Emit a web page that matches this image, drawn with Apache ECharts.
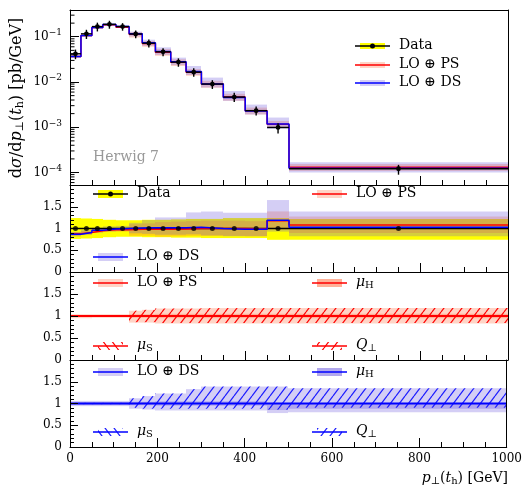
<!DOCTYPE html>
<html>
<head>
<meta charset="utf-8">
<script src="https://cdn.jsdelivr.net/npm/echarts/dist/echarts.min.js"></script>
<style>html,body{margin:0;padding:0;background:#fff}#main{width:525px;height:490px}</style>
</head>
<body>
<div id="main"></div>
<script>
// bin edges, p_T(t_h) [GeV]
var edges = [0, 25, 50, 75, 105, 135, 165, 195, 230, 265, 300, 350, 400, 450, 500, 1000];

// dsigma/dpT [pb/GeV]
var dataVal = [0.0420, 0.116, 0.168, 0.188, 0.168, 0.115, 0.072, 0.0465, 0.0275, 0.0165, 0.0090, 0.00465, 0.00233, 0.00099, 0.000121];
var psVal   = [0.0368, 0.106, 0.160, 0.183, 0.163, 0.113, 0.0706, 0.0456, 0.0272, 0.0165, 0.0090, 0.00465, 0.00231, 0.00117, 0.000131];
var dsVal   = [0.0365, 0.106, 0.161, 0.186, 0.168, 0.116, 0.0735, 0.0474, 0.0281, 0.0170, 0.0090, 0.00456, 0.00228, 0.00118, 0.000125];

// data uncertainty (relative)
var dataLo = [0.76, 0.77, 0.78, 0.80, 0.81, 0.81, 0.80, 0.80, 0.79, 0.79, 0.78, 0.78, 0.78, 0.74, 0.74];
var dataHi = [1.24, 1.23, 1.22, 1.20, 1.19, 1.19, 1.20, 1.20, 1.21, 1.22, 1.22, 1.24, 1.24, 1.24, 1.22];

// MC / data
var psRatio = [0.88, 0.91, 0.95, 0.97, 0.97, 0.98, 0.98, 0.98, 0.99, 1.00, 1.00, 1.00, 0.99, 1.18, 1.08];
var dsRatio = [0.87, 0.91, 0.96, 0.99, 1.00, 1.01, 1.02, 1.02, 1.02, 1.03, 1.00, 0.98, 0.98, 1.19, 1.03];

// LO+PS variations (relative to nominal)
var psTotLo = [0.95, 0.95, 0.96, 0.96, 0.96, 0.85, 0.85, 0.83, 0.83, 0.83, 0.83, 0.83, 0.83, 0.83, 0.83];
var psTotHi = [1.04, 1.04, 1.04, 1.04, 1.04, 1.12, 1.14, 1.17, 1.17, 1.17, 1.18, 1.18, 1.18, 1.18, 1.18];
var psMuHLo = [0.98, 0.98, 0.98, 0.98, 0.98, 0.96, 0.96, 0.95, 0.95, 0.95, 0.95, 0.95, 0.95, 0.95, 0.95];
var psMuHHi = [1.02, 1.02, 1.02, 1.02, 1.02, 1.04, 1.04, 1.05, 1.05, 1.05, 1.05, 1.05, 1.05, 1.05, 1.05];
var psMuSLo = [0.99, 0.99, 0.99, 0.99, 0.99, 0.99, 0.99, 0.99, 0.99, 0.99, 0.99, 0.99, 0.99, 0.99, 0.99];
var psMuSHi = [1.01, 1.01, 1.01, 1.01, 1.01, 1.01, 1.01, 1.01, 1.01, 1.01, 1.01, 1.01, 1.01, 1.01, 1.01];
var psQLo   = [0.985, 0.985, 0.985, 0.985, 0.985, 0.86, 0.86, 0.84, 0.84, 0.84, 0.84, 0.84, 0.84, 0.84, 0.84];
var psQHi   = [1.015, 1.015, 1.015, 1.015, 1.015, 1.12, 1.14, 1.17, 1.17, 1.17, 1.18, 1.18, 1.18, 1.18, 1.18];

// LO+DS variations (relative to nominal)
var dsTotLo = [0.94, 0.94, 0.94, 0.94, 0.94, 0.88, 0.86, 0.84, 0.84, 0.84, 0.84, 0.84, 0.84, 0.78, 0.80];
var dsTotHi = [1.06, 1.06, 1.06, 1.06, 1.06, 1.12, 1.17, 1.23, 1.23, 1.33, 1.39, 1.39, 1.39, 1.39, 1.35];
var dsMuHLo = [0.97, 0.97, 0.97, 0.97, 0.97, 0.96, 0.96, 0.95, 0.95, 0.95, 0.95, 0.95, 0.95, 0.85, 0.88];
var dsMuHHi = [1.03, 1.03, 1.03, 1.03, 1.03, 1.04, 1.04, 1.05, 1.05, 1.05, 1.05, 1.05, 1.05, 1.00, 1.00];
var dsMuSLo = [0.99, 0.99, 0.99, 0.99, 0.99, 0.99, 0.99, 0.99, 0.99, 0.99, 0.99, 0.99, 0.99, 0.99, 0.99];
var dsMuSHi = [1.01, 1.01, 1.01, 1.01, 1.01, 1.01, 1.01, 1.01, 1.01, 1.01, 1.01, 1.01, 1.01, 1.01, 1.01];
var dsQLo   = [0.985, 0.985, 0.985, 0.985, 0.985, 0.90, 0.88, 0.88, 0.88, 0.88, 0.88, 0.88, 0.88, 0.86, 0.90];
var dsQHi   = [1.015, 1.015, 1.015, 1.015, 1.015, 1.12, 1.17, 1.23, 1.23, 1.33, 1.39, 1.39, 1.39, 1.39, 1.35];

var unity = edges.slice(1).map(function () { return 1; });

var SERIF = 'DejaVu Serif, DejaVu Sans, serif';
var PS_BAND = 'rgba(255,100,50,0.28)';
var DS_BAND = 'rgba(100,80,220,0.28)';
var PS_MUH = 'rgba(255,100,50,0.32)';
var DS_MUH = 'rgba(100,80,220,0.32)';

function mul(a, b) { return a.map(function (v, i) { return v * b[i]; }); }
function bins(lo, hi) {
    return lo.map(function (v, i) { return [edges[i], edges[i + 1], v, hi[i]]; });
}
function steps(v) {
    var d = v.map(function (y, i) { return [edges[i], y]; });
    d.push([edges[edges.length - 1], v[v.length - 1]]);
    return d;
}
function hatch(color, back) {
    var w = 9, h = 12;
    var c = document.createElement('canvas');
    c.width = w; c.height = h;
    var ctx = c.getContext('2d');
    ctx.strokeStyle = color;
    ctx.lineWidth = 1.2;
    [-w, 0, w].forEach(function (dx) {
        ctx.beginPath();
        if (back) { ctx.moveTo(dx, 0); ctx.lineTo(dx + w, h); }
        else { ctx.moveTo(dx, h); ctx.lineTo(dx + w, 0); }
        ctx.stroke();
    });
    return { image: c, repeat: 'repeat' };
}

function band(g, data, fill, z) {
    return {
        type: 'custom', xAxisIndex: g, yAxisIndex: g, data: data, clip: true, silent: true, z: z || 2,
        encode: { x: [0, 1], y: [2, 3] },
        renderItem: function (p, api) {
            var a = api.coord([api.value(0), api.value(3)]);
            var b = api.coord([api.value(1), api.value(2)]);
            var x0 = Math.round(a[0]), x1 = Math.round(b[0]);
            return { type: 'rect', shape: { x: x0, y: a[1], width: x1 - x0, height: b[1] - a[1] }, style: { fill: fill } };
        }
    };
}
function stepLine(g, v, color, w, z) {
    return {
        type: 'line', xAxisIndex: g, yAxisIndex: g, data: steps(v), step: 'end', symbol: 'none',
        showSymbol: false, silent: true, z: z, lineStyle: { color: color, width: w }
    };
}

// data points with errors in top panel
var dataPts = dataVal.map(function (v, i) {
    return [(edges[i] + edges[i + 1]) / 2, v, v * dataLo[i], v * dataHi[i], edges[i], edges[i + 1]];
});
var ratioPts = unity.map(function (v, i) { return [(edges[i] + edges[i + 1]) / 2, v]; });

// log minor ticks
var logMin = 5.3e-5, logMax = 0.39;
var minorLog = [];
for (var e = -5; e <= -1; e++) {
    for (var k = 2; k <= 9; k++) {
        var mv = k * Math.pow(10, e);
        if (mv > logMin && mv < logMax) minorLog.push([0, mv]);
    }
}

var grids = [
    { left: 70, right: 17, top: 10, height: 175 },
    { left: 70, right: 17, top: 185, height: 87 },
    { left: 70, right: 17, top: 272, height: 88 },
    { left: 70, right: 17, top: 360, height: 87 }
];

var xAxes = grids.map(function (g, i) {
    return {
        type: 'value', gridIndex: i, min: 0, max: 1000, interval: 200, z: 10,
        axisLine: { lineStyle: { color: '#000', width: 1 } },
        axisTick: { inside: true, length: 9, lineStyle: { color: '#000' } },
        minorTick: { show: true, splitNumber: 4, length: 5, lineStyle: { color: '#000' } },
        splitLine: { show: false },
        axisLabel: {
            show: i === 3, color: '#000', fontFamily: SERIF, fontSize: 12, margin: 6,
            formatter: function (v) { return String(v); }
        }
    };
});
xAxes.push({
    type: 'value', gridIndex: 0, position: 'top', min: 0, max: 1000, z: 10,
    axisLine: { lineStyle: { color: '#000' } }, axisTick: { show: false }, axisLabel: { show: false }, splitLine: { show: false }
});

var yAxes = [{
    type: 'log', gridIndex: 0, min: logMin, max: logMax, logBase: 10, z: 10,
    axisLine: { lineStyle: { color: '#000' } },
    axisTick: { inside: true, length: 9, lineStyle: { color: '#000' } },
    splitLine: { show: false },
    axisLabel: {
        color: '#000', fontFamily: SERIF, fontSize: 12, margin: 8,
        showMinLabel: false, showMaxLabel: false,
        formatter: function (v) {
            var l = Math.log10(v), n = Math.round(l);
            if (Math.abs(l - n) > 1e-6) return '';
            return '10{s|−' + (-n) + '}';
        },
        rich: { s: { fontSize: 9, fontFamily: SERIF, padding: [0, 0, 8, 0] } }
    }
}];
for (var gi = 1; gi < 4; gi++) {
    yAxes.push({
        type: 'value', gridIndex: gi, min: 0, max: 2, interval: 0.5, z: 10,
        axisLine: { lineStyle: { color: '#000' } },
        axisTick: { inside: true, length: 8, lineStyle: { color: '#000' } },
        minorTick: { show: true, splitNumber: 5, length: 4, lineStyle: { color: '#000' } },
        splitLine: { show: false },
        axisLabel: {
            color: '#000', fontFamily: SERIF, fontSize: 12, margin: 8,
            formatter: function (v) { return v === 2 ? '' : String(v); }
        }
    });
}
for (var gj = 0; gj < 4; gj++) {
    yAxes.push({
        type: 'value', gridIndex: gj, position: 'right', z: 10,
        axisLine: { show: true, onZero: false, lineStyle: { color: '#000' } },
        axisTick: { show: false }, axisLabel: { show: false }, splitLine: { show: false }
    });
}

var psHatchQ = hatch('#ff0000', false), psHatchS = hatch('#ff0000', true);
var dsHatchQ = hatch('#1a1aff', false), dsHatchS = hatch('#1a1aff', true);

var series = [
    // top panel
    band(0, bins(mul(psVal, psTotLo), mul(psVal, psTotHi)), PS_BAND, 2),
    band(0, bins(mul(dsVal, dsTotLo), mul(dsVal, dsTotHi)), DS_BAND, 2),
    stepLine(0, psVal, '#ff0000', 1.5, 4),
    stepLine(0, dsVal, '#0000ff', 1.5, 5),
    {
        type: 'custom', xAxisIndex: 0, yAxisIndex: 0, data: dataPts, silent: true, z: 6, clip: true,
        encode: { x: 0, y: 1 },
        renderItem: function (p, api) {
            var c = api.coord([api.value(0), api.value(1)]);
            var l = api.coord([api.value(0), api.value(2)]);
            var h = api.coord([api.value(0), api.value(3)]);
            var a = api.coord([api.value(4), api.value(1)]);
            var b = api.coord([api.value(5), api.value(1)]);
            return {
                type: 'group', children: [
                    { type: 'line', shape: { x1: a[0], y1: a[1], x2: b[0], y2: b[1] }, style: { stroke: '#000', lineWidth: 1.4 } },
                    { type: 'line', shape: { x1: l[0], y1: l[1], x2: h[0], y2: h[1] }, style: { stroke: '#000', lineWidth: 1.4 } },
                    { type: 'circle', shape: { cx: c[0], cy: c[1], r: 2.4 }, style: { fill: '#000' } }
                ]
            };
        }
    },
    {
        type: 'custom', xAxisIndex: 0, yAxisIndex: 0, data: minorLog, silent: true, z: 11,
        encode: { x: 0, y: 1 },
        renderItem: function (p, api) {
            var c = api.coord([0, api.value(1)]);
            return { type: 'line', shape: { x1: c[0], y1: c[1], x2: c[0] + 4.5, y2: c[1] }, style: { stroke: '#000', lineWidth: 1 } };
        }
    },

    // ratio to data
    band(1, bins(dataLo, dataHi), '#ffff00', 1),
    band(1, bins(mul(psRatio, psTotLo), mul(psRatio, psTotHi)), PS_BAND, 2),
    band(1, bins(mul(dsRatio, dsTotLo), mul(dsRatio, dsTotHi)), DS_BAND, 2),
    stepLine(1, unity, '#000', 1.5, 3),
    stepLine(1, psRatio, '#ff0000', 1.5, 4),
    stepLine(1, dsRatio, '#0000ff', 1.5, 5),
    {
        type: 'scatter', xAxisIndex: 1, yAxisIndex: 1, data: ratioPts, symbol: 'circle', symbolSize: 5,
        itemStyle: { color: '#000' }, silent: true, z: 6
    },

    // LO+PS variations
    band(2, bins(psTotLo, psTotHi), PS_BAND, 2),
    band(2, bins(psMuHLo, psMuHHi), PS_MUH, 3),
    band(2, bins(psQLo, psQHi), psHatchQ, 3),
    band(2, bins(psMuSLo, psMuSHi), psHatchS, 3),
    stepLine(2, unity, '#ff0000', 1.8, 5),

    // LO+DS variations
    band(3, bins(dsTotLo, dsTotHi), DS_BAND, 2),
    band(3, bins(dsMuHLo, dsMuHHi), DS_MUH, 3),
    band(3, bins(dsQLo, dsQHi), dsHatchQ, 3),
    band(3, bins(dsMuSLo, dsMuSHi), dsHatchS, 3),
    stepLine(3, unity, '#0000ff', 1.8, 5)
];

// legend entries
function entry(x, y, o) {
    var h = o.h || 8;
    var els = [];
    if (o.box) els.push({ type: 'rect', shape: { x: x + 5, y: y - h / 2, width: 25, height: h }, style: { fill: o.box } });
    els.push({ type: 'line', shape: { x1: x, y1: y, x2: x + 35, y2: y }, style: { stroke: o.color, lineWidth: 1.5 } });
    if (o.dot) els.push({ type: 'circle', shape: { cx: x + 17.5, cy: y, r: 2.5 }, style: { fill: '#000' } });
    els.push({
        type: 'text', x: x + 44, y: y - 1,
        style: {
            text: o.text, fill: '#000', fontSize: 14, fontFamily: SERIF, verticalAlign: 'middle',
            rich: {
                i: { fontSize: 14, fontFamily: SERIF, fontStyle: 'italic' },
                s: { fontSize: 10, fontFamily: SERIF, padding: [7, 0, 0, 0] }
            }
        }
    });
    return els;
}

var graphics = [].concat(
    entry(355, 46, { color: '#000', box: '#ffff00', dot: true, h: 6, text: 'Data' }),
    entry(355, 65, { color: '#ff0000', box: PS_BAND, h: 6, text: 'LO ⊕ PS' }),
    entry(355, 83, { color: '#0000ff', box: DS_BAND, h: 6, text: 'LO ⊕ DS' }),

    entry(93, 194, { color: '#000', box: '#ffff00', dot: true, text: 'Data' }),
    entry(312, 194, { color: '#ff0000', box: PS_BAND, text: 'LO ⊕ PS' }),
    entry(93, 257, { color: '#0000ff', box: DS_BAND, text: 'LO ⊕ DS' }),

    entry(93, 283, { color: '#ff0000', box: PS_BAND, text: 'LO ⊕ PS' }),
    entry(312, 283, { color: '#ff0000', box: 'rgba(255,100,50,0.5)', text: '{i|μ}{s|H}' }),
    entry(93, 346, { color: '#ff0000', box: psHatchS, text: '{i|μ}{s|S}' }),
    entry(312, 346, { color: '#ff0000', box: psHatchQ, text: '{i|Q}{s|⊥}' }),

    entry(93, 372, { color: '#0000ff', box: DS_BAND, text: 'LO ⊕ DS' }),
    entry(312, 372, { color: '#0000ff', box: 'rgba(100,80,220,0.5)', text: '{i|μ}{s|H}' }),
    entry(93, 432, { color: '#0000ff', box: dsHatchS, text: '{i|μ}{s|S}' }),
    entry(312, 432, { color: '#0000ff', box: dsHatchQ, text: '{i|Q}{s|⊥}' }),
    [
        {
            type: 'text', x: 93, y: 157,
            style: { text: 'Herwig 7', fill: '#999', fontSize: 14, fontFamily: SERIF, verticalAlign: 'middle' }
        },
        {
            type: 'text', x: 17, y: 98, rotation: Math.PI / 2,
            style: {
                text: 'd{i|σ}/d{i|p}{s|⊥}({i|t}{s|h}) [pb/GeV]', fill: '#000', fontSize: 16, fontFamily: SERIF,
                align: 'center', verticalAlign: 'middle',
                rich: {
                    i: { fontSize: 16, fontFamily: SERIF, fontStyle: 'italic' },
                    s: { fontSize: 11, fontFamily: SERIF, padding: [7, 0, 0, 0] }
                }
            }
        },
        {
            type: 'text', x: 508, y: 478,
            style: {
                text: '{i|p}{s|⊥}({i|t}{s|h}) [GeV]', fill: '#000', fontSize: 14, fontFamily: SERIF,
                align: 'right', verticalAlign: 'middle',
                rich: {
                    i: { fontSize: 14, fontFamily: SERIF, fontStyle: 'italic' },
                    s: { fontSize: 10, fontFamily: SERIF, padding: [7, 0, 0, 0] }
                }
            }
        }
    ]
);
graphics.forEach(function (g) { g.z = 100; g.silent = true; });

var myChart = echarts.init(document.getElementById('main'));
myChart.setOption({
    animation: false,
    backgroundColor: '#fff',
    grid: grids,
    xAxis: xAxes,
    yAxis: yAxes,
    series: series,
    graphic: graphics
});
</script>
</body>
</html>
